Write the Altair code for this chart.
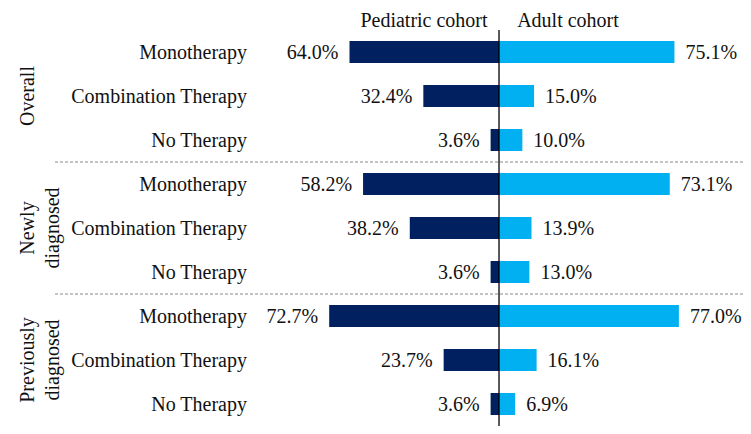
import altair as alt
import pandas as pd

groups = ["Overall", "Newly diagnosed", "Previously diagnosed"]
categories = ["Monotherapy", "Combination Therapy", "No Therapy"]
pediatric = [64.0, 32.4, 3.6, 58.2, 38.2, 3.6, 72.7, 23.7, 3.6]
adult = [75.1, 15.0, 10.0, 73.1, 13.9, 13.0, 77.0, 16.1, 6.9]
cohorts = ["Pediatric cohort", "Adult cohort"]
colors = ["#002060", "#00B0F0"]

FONT = "'Liberation Serif', 'Times New Roman', serif"
FS = 20

rows = []
row_keys = []
i = 0
for g in groups:
    for c in categories:
        key = f"{g}|{c}"
        row_keys.append(key)
        rows.append({"row": key, "group": g, "category": c,
                     "cohort": cohorts[0], "value": pediatric[i], "signed": -pediatric[i]})
        rows.append({"row": key, "group": g, "category": c,
                     "cohort": cohorts[1], "value": adult[i], "signed": adult[i]})
        i += 1
df = pd.DataFrame(rows)
df["label"] = df["value"].map(lambda v: f"{v:.1f}%")

cat_df = pd.DataFrame({"row": row_keys,
                       "category": [k.split("|")[1] for k in row_keys]})
grp_df = pd.DataFrame({"row": [f"{g}|{categories[1]}" for g in groups],
                       "text": [g.replace(" ", "\n") for g in groups]})
sep_df = pd.DataFrame({"row": [f"{g}|{categories[-1]}" for g in groups[:-1]]})

W, H = 735, 396
TOP = 22
xscale = alt.Scale(domain=[-210.2, 104.45], nice=False, zero=False)
yenc = alt.Y("row:N", sort=row_keys, axis=None,
             scale=alt.Scale(paddingInner=0, paddingOuter=0))

base = alt.Chart(df)

bars = base.mark_bar(height=22).encode(
    x=alt.X("signed:Q", scale=xscale, axis=None),
    y=yenc,
    color=alt.Color("cohort:N", scale=alt.Scale(domain=cohorts, range=colors), legend=None),
)

ped_lbl = base.transform_filter(alt.datum.cohort == cohorts[0]).mark_text(
    align="right", baseline="middle", dx=-11, dy=1, font=FONT, fontSize=FS, color="#111"
).encode(x=alt.X("signed:Q", scale=xscale), y=yenc, text="label:N")

ad_lbl = base.transform_filter(alt.datum.cohort == cohorts[1]).mark_text(
    align="left", baseline="middle", dx=11, dy=1, font=FONT, fontSize=FS, color="#111"
).encode(x=alt.X("signed:Q", scale=xscale), y=yenc, text="label:N")

center = alt.Chart(pd.DataFrame({"z": [0]})).mark_rule(color="black", strokeWidth=1.3).encode(
    x=alt.X("z:Q", scale=xscale)
)

seps = alt.Chart(sep_df).mark_rule(color="#888", strokeWidth=1, strokeDash=[3, 2]).encode(
    y=alt.Y("row:N", sort=row_keys, axis=None, bandPosition=1,
            scale=alt.Scale(paddingInner=0, paddingOuter=0)),
    x=alt.value(47), x2=alt.value(W),
)

cat_lbl = alt.Chart(cat_df).mark_text(
    align="right", baseline="middle", dy=1, font=FONT, fontSize=FS, color="#111"
).encode(y=yenc, x=alt.value(239), text="category:N")

grp_lbl = alt.Chart(grp_df).mark_text(
    angle=270, align="center", baseline="middle", lineBreak="\n", lineHeight=25,
    font=FONT, fontSize=FS, color="#111"
).encode(y=yenc, x=alt.value(20), text="text:N")

head_ped = alt.Chart(pd.DataFrame({"text": [cohorts[0]]})).mark_text(
    align="center", baseline="alphabetic", font=FONT, fontSize=FS, color="#111"
).encode(x=alt.value(416), y=alt.value(-3), text="text:N")

head_ad = alt.Chart(pd.DataFrame({"text": [cohorts[1]]})).mark_text(
    align="center", baseline="alphabetic", font=FONT, fontSize=FS, color="#111"
).encode(x=alt.value(560), y=alt.value(-3), text="text:N")

chart = alt.layer(seps, bars, center, ped_lbl, ad_lbl, cat_lbl, grp_lbl, head_ped, head_ad).properties(
    width=W, height=H,
    autosize=alt.AutoSizeParams(type="none"),
    padding={"left": 0, "top": TOP, "right": 0, "bottom": 0},
).configure_view(stroke=None)

chart.save("out.html", embed_options={"renderer": "svg", "actions": False})
